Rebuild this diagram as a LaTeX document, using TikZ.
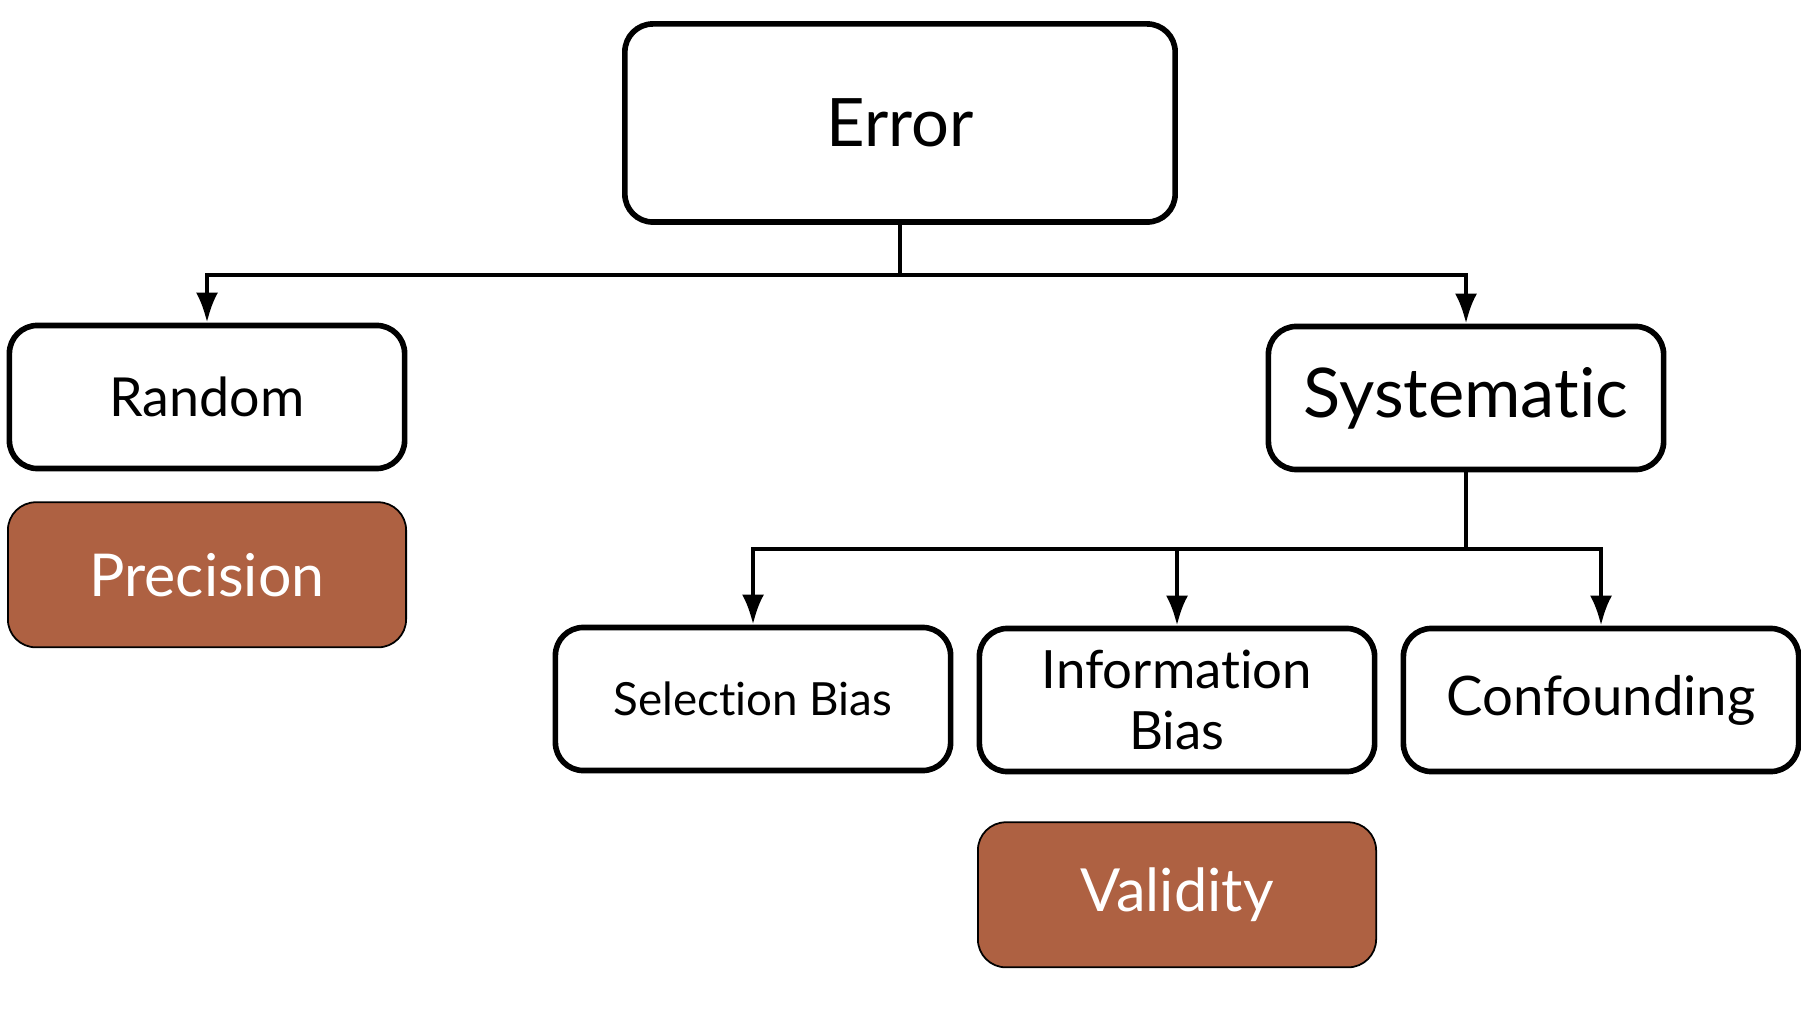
\documentclass[tikz,border=0pt]{standalone}
\usepackage{fontspec}
\setmainfont{Lato}[Ligatures={NoCommon}]
\usetikzlibrary{positioning,arrows.meta}
\definecolor{rust}{HTML}{AE6142}

\begin{document}
\begin{tikzpicture}[
  x=0.01cm, y=-0.01cm,
  node distance=0.3cm and 0.5cm,
  box/.style={rectangle, draw, line width=1.6pt, rounded corners=0.28cm, minimum width=3.95cm, minimum height=1.43cm, align=center, fill=white},
  tag/.style={rectangle, draw, line width=0.5pt, rounded corners=0.28cm, minimum width=3.98cm, minimum height=1.45cm, align=center, fill=rust, text=white},
  link/.style={line width=1.2pt, -{Latex[length=0.3cm,width=0.22cm]}}
]
  \useasboundingbox (0,0) rectangle (1801,1013);

  \node[box, minimum width=5.5cm, minimum height=1.98cm, font=\fontsize{19}{23}\selectfont] (err) at (900,123) {Error};

  \node[box, font=\fontsize{15.3}{18}\selectfont] (rand) at (207,397) {Random};
  \node[tag, below=0.3cm of rand, font=\fontsize{16.8}{20}\selectfont] (prec) {Precision};

  \node[box, font=\fontsize{19.5}{23}\selectfont] (syst) at (1466,398) {Systematic};

  \node[box, font=\fontsize{13}{16}\selectfont] (sel) at (753,699) {Selection Bias};
  \node[box, font=\fontsize{15}{18}\selectfont] (info) at (1177,700) {Information\\[-0.5pt]Bias};
  \node[box, font=\fontsize{15.5}{19}\selectfont] (conf) at (1601,700) {Confounding};
  \node[tag, below=0.47cm of info, font=\fontsize{16.9}{20}\selectfont] (valid) {Validity};

  % branch points
  \coordinate (j1) at (900,275);
  \coordinate (j2) at (1466,549);

  \draw[line width=1.2pt] (err.south) -- (j1);
  \draw[link] (j1) -| (rand.north);
  \draw[link] (j1) -| (syst.north);

  \draw[line width=1.2pt] (syst.south) -- (j2);
  \draw[link] (j2) -| (sel.north);
  \draw[link] (j2) -| (info.north);
  \draw[link] (j2) -| (conf.north);
\end{tikzpicture}
\end{document}
